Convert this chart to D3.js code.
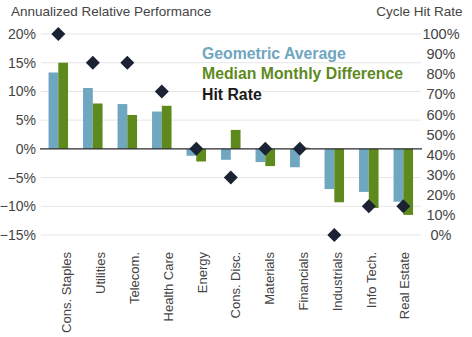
<!DOCTYPE html>
<html>
<head>
<meta charset="utf-8">
<script src="https://cdn.jsdelivr.net/npm/d3@7"></script>
<style>
  body { margin: 0; background: #fff; }
  svg { display: block; font-family: "Liberation Sans", Arial, sans-serif; }
</style>
</head>
<body>
<svg width="472" height="337"></svg>
<script>
// values
var sectors = ["Cons. Staples", "Utilities", "Telecom.", "Health Care", "Energy", "Cons. Disc.",
               "Materials", "Financials", "Industrials", "Info Tech.", "Real Estate"];
var geometricAvg = [13.3, 10.6, 7.8, 6.5, -1.2, -1.9, -2.3, -3.2, -7.0, -7.5, -9.2];
var medianDiff   = [15.0, 7.9, 5.9, 7.5, -2.2, 3.3, -3.0, 0.2, -9.3, -10.3, -11.5];
var hitRate      = [100, 85.7, 85.7, 71.4, 42.9, 28.6, 42.9, 42.9, 0, 14.3, 14.3];
var leftTicks  = [-15, -10, -5, 0, 5, 10, 15, 20];
var rightTicks = [0, 10, 20, 30, 40, 50, 60, 70, 80, 90, 100];
var legendLabels = ["Geometric Average", "Median Monthly Difference", "Hit Rate"];

var blue = "#6fa6c0", green = "#5e8a1d", dark = "#1b2233";

var svg = d3.select("svg");

var y = d3.scaleLinear().domain([-15, 20]).range([235, 34]);
var yR = d3.scaleLinear().domain([0, 100]).range([235, 34]);

var x = d3.scaleBand().domain(sectors)
    .range([41.05, 420.55])
    .paddingInner(0.435)
    .paddingOuter(0.2175);

var x2 = d3.scaleBand().domain(["g", "m"]).range([0, x.bandwidth()]);

// label positions drift slightly from the bars in the original
var xLab = d3.scalePoint().domain(sectors).range([66.3, 404.3]);

// grid
svg.append("g")
  .selectAll("line")
  .data(leftTicks.filter(function(d) { return d !== 0; }))
  .enter().append("line")
    .attr("x1", 41).attr("x2", 421)
    .attr("y1", function(d) { return y(d); })
    .attr("y2", function(d) { return y(d); })
    .attr("stroke", "#e6e6e6")
    .attr("stroke-width", 1);

// bars
var groups = svg.append("g")
  .selectAll("g")
  .data(sectors)
  .enter().append("g")
    .attr("transform", function(d) { return "translate(" + x(d) + ",0)"; });

groups.append("rect")
    .attr("x", x2("g"))
    .attr("width", x2.bandwidth())
    .attr("y", function(d, i) { return y(Math.max(0, geometricAvg[i])); })
    .attr("height", function(d, i) { return Math.abs(y(geometricAvg[i]) - y(0)); })
    .attr("fill", blue);

groups.append("rect")
    .attr("x", x2("m"))
    .attr("width", x2.bandwidth())
    .attr("y", function(d, i) { return y(Math.max(0, medianDiff[i])); })
    .attr("height", function(d, i) { return Math.abs(y(medianDiff[i]) - y(0)); })
    .attr("fill", green);

// zero line
svg.append("line")
    .attr("x1", 40).attr("x2", 422)
    .attr("y1", y(0)).attr("y2", y(0))
    .attr("stroke", "#2a2a2a")
    .attr("stroke-width", 1.2);

// hit rate diamonds
svg.append("g")
  .selectAll("path")
  .data(sectors)
  .enter().append("path")
    .attr("d", d3.symbol().type(d3.symbolSquare).size(98))
    .attr("transform", function(d, i) {
      return "translate(" + (x(d) + x.bandwidth() / 2) + "," + yR(hitRate[i]) + ") rotate(45)";
    })
    .attr("fill", dark);

// left axis
var fmtLeft = function(d) { return (d < 0 ? "\u2212" + Math.abs(d) : d) + "%"; };
var gl = svg.append("g")
    .attr("transform", "translate(36,0)")
    .call(d3.axisLeft(y).tickValues(leftTicks).tickFormat(fmtLeft).tickSize(0).tickPadding(0));
gl.select(".domain").remove();
gl.selectAll("text")
    .attr("font-size", 14)
    .attr("font-family", "Liberation Sans, Arial, sans-serif")
    .attr("fill", "#444");

// right axis
var gr = svg.append("g")
    .attr("transform", "translate(441,0)")
    .call(d3.axisRight(yR).tickValues(rightTicks).tickFormat(function(d) { return d + "%"; })
      .tickSize(0).tickPadding(0));
gr.select(".domain").remove();
gr.selectAll("text")
    .attr("text-anchor", "middle")
    .attr("font-size", 14.5)
    .attr("font-family", "Liberation Sans, Arial, sans-serif")
    .attr("fill", "#444");

// category labels
var gb = svg.append("g")
    .attr("transform", "translate(0,252)")
    .call(d3.axisBottom(xLab).tickSize(0));
gb.select(".domain").remove();
gb.selectAll("text")
    .attr("x", 0).attr("y", 0)
    .attr("dy", "0.35em")
    .attr("transform", "rotate(-90)")
    .attr("text-anchor", "end")
    .attr("font-size", 13)
    .attr("font-family", "Liberation Sans, Arial, sans-serif")
    .attr("fill", "#444");

// titles
svg.append("text")
    .attr("x", 11).attr("y", 16)
    .attr("font-size", 13.5)
    .attr("fill", "#444")
    .text("Annualized Relative Performance");

svg.append("text")
    .attr("x", 462.5).attr("y", 16)
    .attr("text-anchor", "end")
    .attr("font-size", 13.5)
    .attr("fill", "#444")
    .text("Cycle Hit Rate");

// legend
var legendColors = [blue, green, "#1a1a1a"];
var legendY = [58.5, 79.3, 99.5];
svg.append("g")
  .selectAll("text")
  .data(legendLabels)
  .enter().append("text")
    .attr("x", 202)
    .attr("y", function(d, i) { return legendY[i]; })
    .attr("font-size", 15.8)
    .attr("font-weight", "bold")
    .attr("fill", function(d, i) { return legendColors[i]; })
    .text(function(d) { return d; });
</script>
</body>
</html>
